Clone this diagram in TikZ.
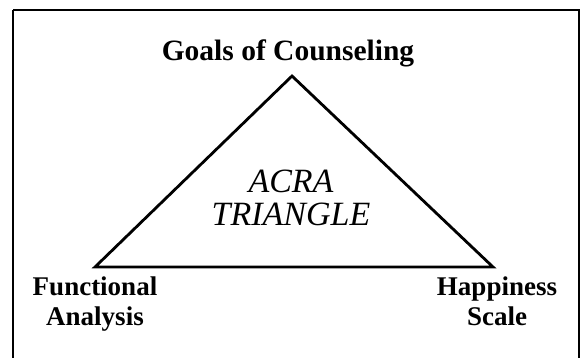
\documentclass[tikz,border=0pt]{standalone}
\usepackage{fontspec}
\setmainfont{Liberation Serif}
\begin{document}
\begin{tikzpicture}[x=1pt,y=-1pt,
  lbl/.style={font=\bfseries\fontsize{27}{30}\selectfont, align=center, anchor=base, inner sep=0pt},
  title/.style={font=\bfseries\fontsize{29.5}{32}\selectfont, anchor=base, inner sep=0pt},
  center/.style={font=\itshape\fontsize{34}{33}\selectfont, align=center, anchor=base, inner sep=0pt},
  edge/.style={line width=2.8pt, line join=miter},
  frame/.style={line width=2.3pt}]
\useasboundingbox (0,0) rectangle (583,357);
\draw[frame] (13,10) -- (579,10) -- (579,362) (13,10) -- (13,362);
\coordinate (apex) at (292,76);
\coordinate (bl) at (95,267);
\coordinate (br) at (493,267);
\draw[edge] (apex) -- (bl) -- (br) -- cycle;
\node[title] (goals) at (288,60) {Goals of Counseling};
\node[lbl] (fa) at (95,325) {Functional\\Analysis};
\node[lbl] (hs) at (497,325) {Happiness\\Scale};
\node[center] (acra) at (291,225) {ACRA\\TRIANGLE};
\end{tikzpicture}
\end{document}
